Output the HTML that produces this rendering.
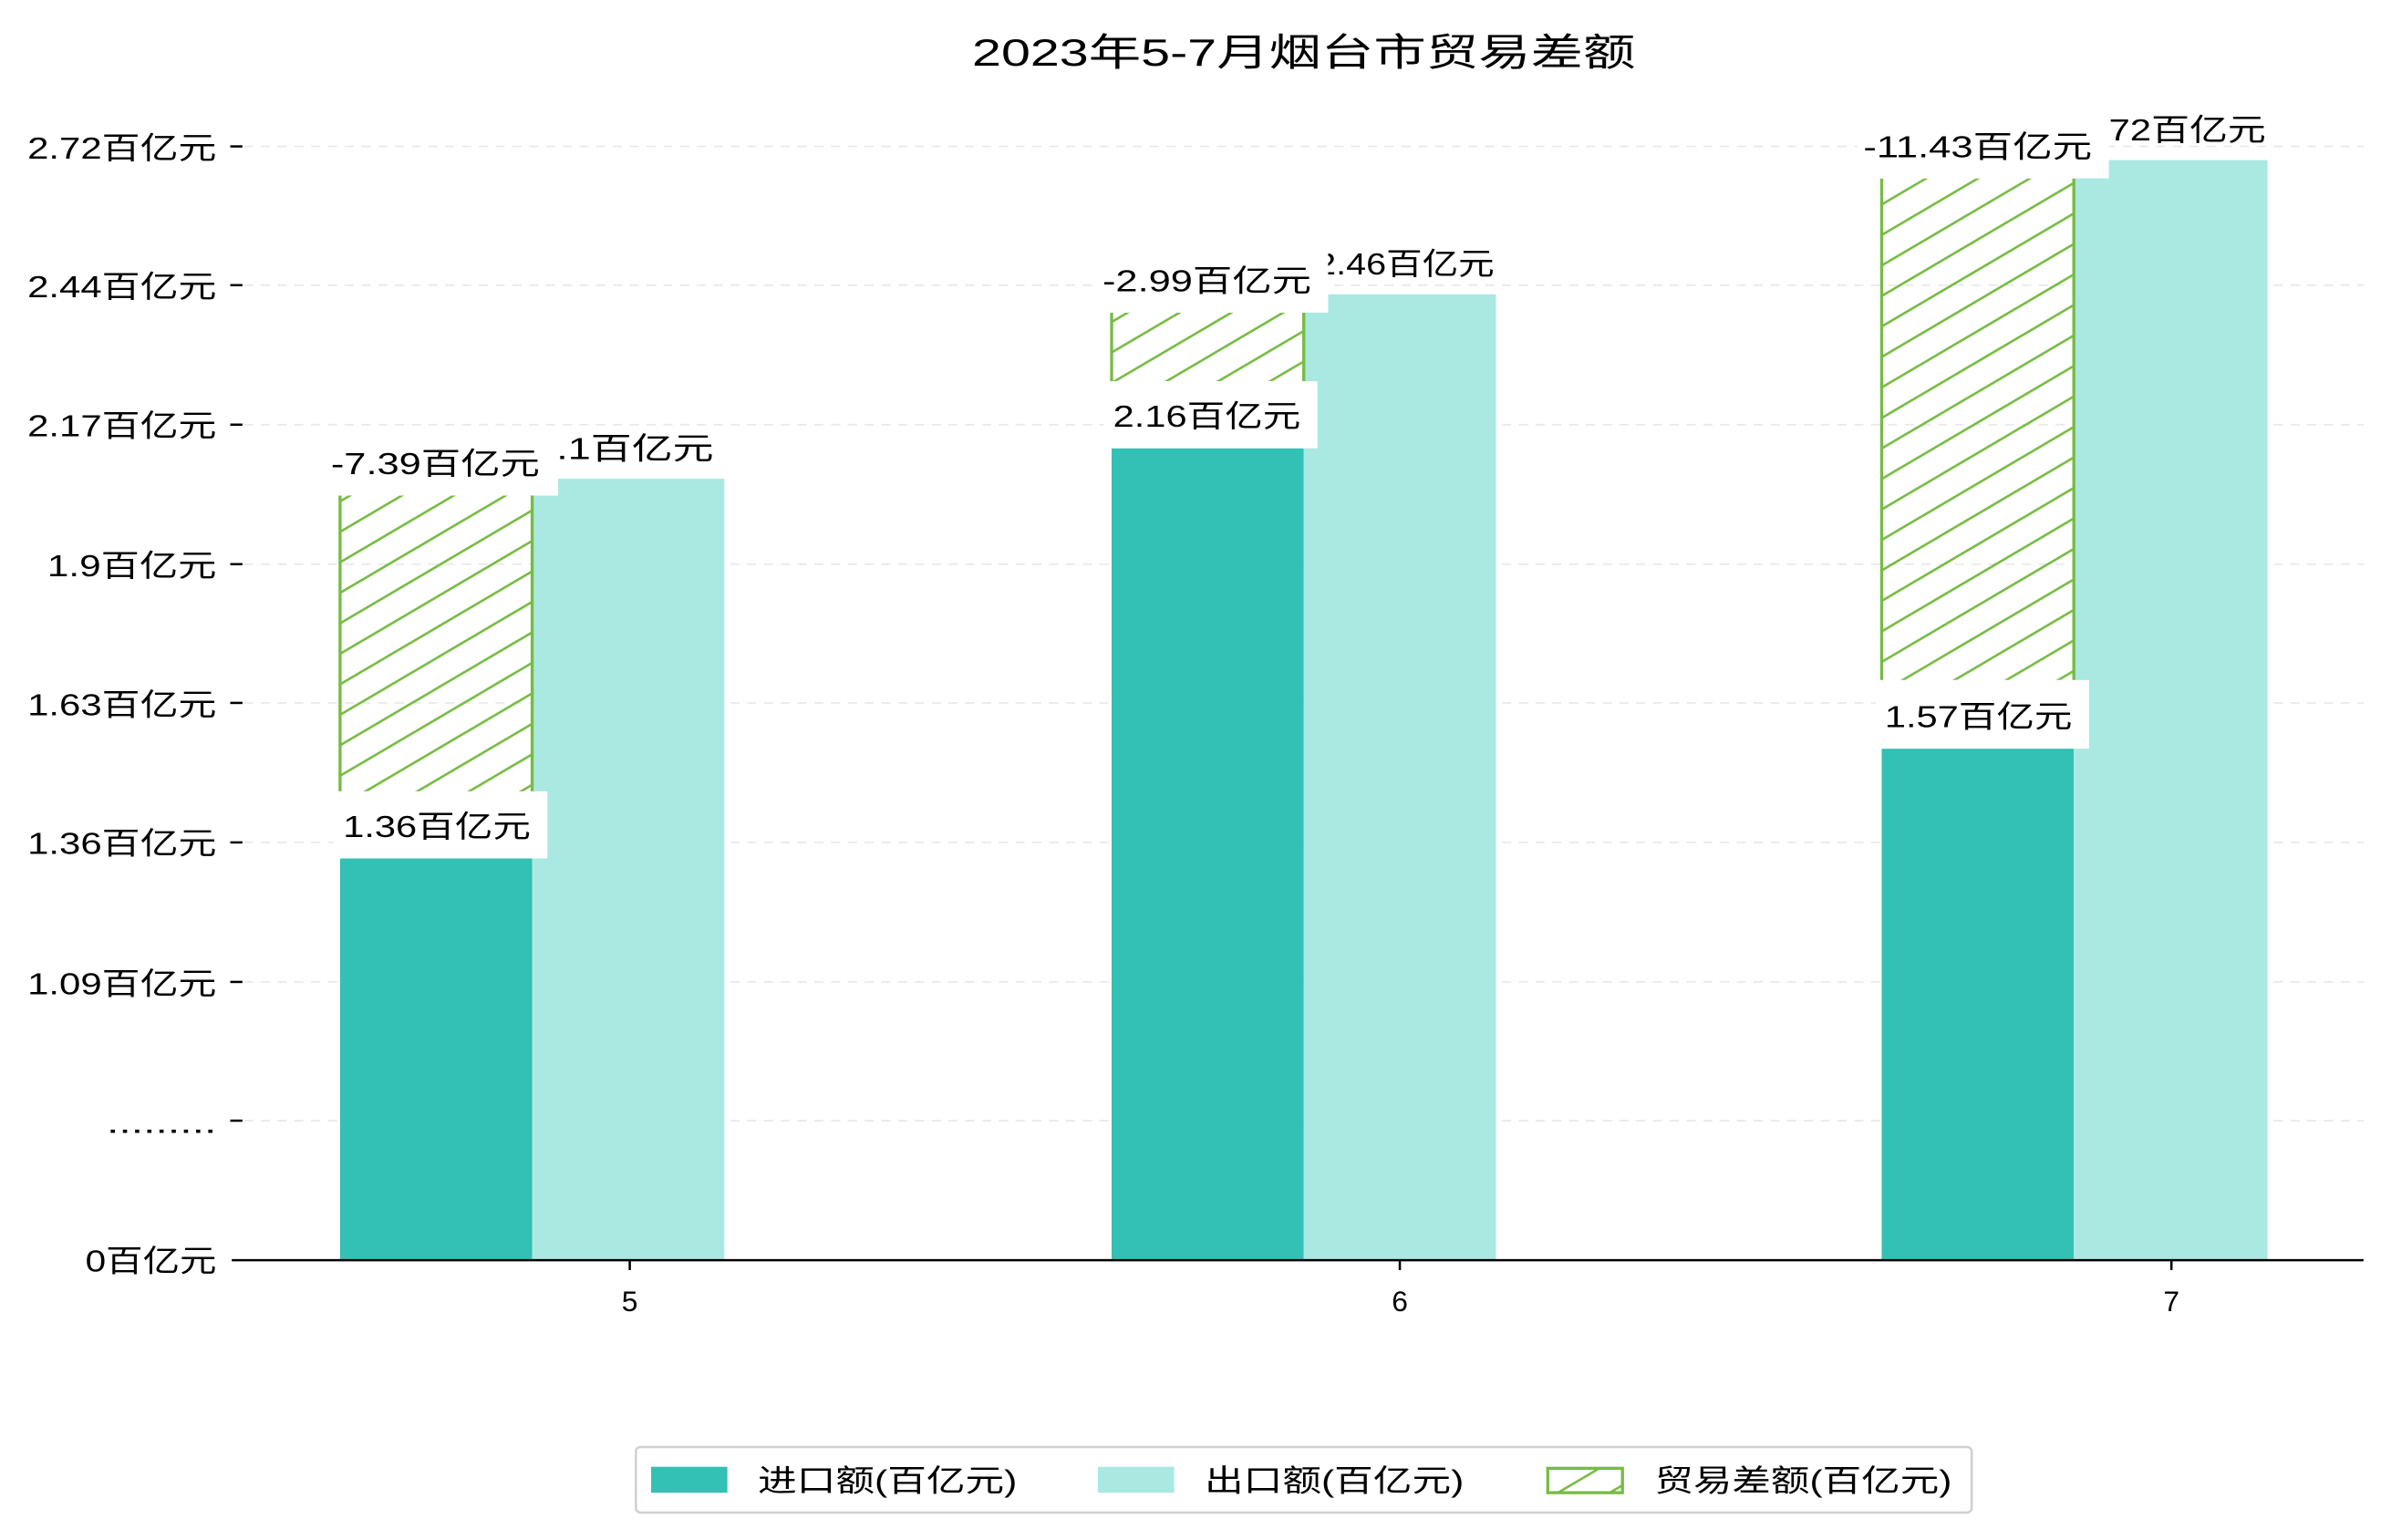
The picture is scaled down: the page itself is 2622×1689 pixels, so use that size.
<!DOCTYPE html>
<html><head><meta charset="utf-8"><style>
html,body{margin:0;padding:0;background:#fff;width:2622px;height:1689px;overflow:hidden}
svg{display:block}
text{font-family:"Liberation Sans","Noto Sans CJK SC",sans-serif;fill:#000}
</style></head><body>
<svg width="2622" height="1689" viewBox="0 0 1568 1010" xmlns="http://www.w3.org/2000/svg">
<defs>
<pattern id="h" patternUnits="userSpaceOnUse" width="34" height="20">
<line x1="-34" y1="40" x2="68" y2="-20" stroke="#77bb44" stroke-width="1.6"/>
<line x1="-34" y1="20" x2="34" y2="-20" stroke="#77bb44" stroke-width="1.6"/>
<line x1="0" y1="40" x2="68" y2="0" stroke="#77bb44" stroke-width="1.6"/>
</pattern>
</defs>
<rect width="1568" height="1010" fill="#fff"/>
<text x="855" y="43" font-size="25" text-anchor="middle" textLength="435" lengthAdjust="spacingAndGlyphs">2023年5-7月烟台市贸易差额</text>
<g stroke="#e8e8e8" stroke-width="1" stroke-dasharray="6,5">
<line x1="160" y1="96" x2="1550" y2="96"/><line x1="160" y1="187" x2="1550" y2="187"/>
<line x1="160" y1="278.5" x2="1550" y2="278.5"/><line x1="160" y1="370" x2="1550" y2="370"/>
<line x1="160" y1="461" x2="1550" y2="461"/><line x1="160" y1="552.5" x2="1550" y2="552.5"/>
<line x1="160" y1="644" x2="1550" y2="644"/><line x1="160" y1="735" x2="1550" y2="735"/>
</g>
<g stroke="#000" stroke-width="1.5">
<line x1="151" y1="96" x2="159" y2="96"/><line x1="151" y1="187" x2="159" y2="187"/>
<line x1="151" y1="278.5" x2="159" y2="278.5"/><line x1="151" y1="370" x2="159" y2="370"/>
<line x1="151" y1="461" x2="159" y2="461"/><line x1="151" y1="552.5" x2="159" y2="552.5"/>
<line x1="151" y1="644" x2="159" y2="644"/><line x1="151" y1="735" x2="159" y2="735"/>
<line x1="413" y1="826" x2="413" y2="833"/><line x1="918" y1="826" x2="918" y2="833"/><line x1="1424" y1="826" x2="1424" y2="833"/>
</g>
<g font-size="20" text-anchor="end">
<text x="142" y="104" textLength="124" lengthAdjust="spacingAndGlyphs">2.72百亿元</text>
<text x="142" y="195" textLength="124" lengthAdjust="spacingAndGlyphs">2.44百亿元</text>
<text x="142" y="286" textLength="124" lengthAdjust="spacingAndGlyphs">2.17百亿元</text>
<text x="142" y="378" textLength="111" lengthAdjust="spacingAndGlyphs">1.9百亿元</text>
<text x="142" y="469" textLength="124" lengthAdjust="spacingAndGlyphs">1.63百亿元</text>
<text x="142" y="560" textLength="124" lengthAdjust="spacingAndGlyphs">1.36百亿元</text>
<text x="142" y="652" textLength="124" lengthAdjust="spacingAndGlyphs">1.09百亿元</text>
<text x="142" y="743" textLength="72" lengthAdjust="spacingAndGlyphs">.........</text>
<text x="142" y="834" textLength="86" lengthAdjust="spacingAndGlyphs">0百亿元</text>
</g>
<g font-size="19" text-anchor="middle">
<text x="413" y="860">5</text><text x="918" y="860">6</text><text x="1424" y="860">7</text>
</g>
<rect x="223" y="563" width="126" height="263" fill="#32c1b4"/>
<rect x="349" y="314" width="126" height="512" fill="#aae8e2"/>
<rect x="729" y="294" width="126" height="532" fill="#32c1b4"/>
<rect x="855" y="193" width="126" height="633" fill="#aae8e2"/>
<rect x="1234" y="491" width="126" height="335" fill="#32c1b4"/>
<rect x="1360" y="105" width="127" height="721" fill="#aae8e2"/>
<rect x="223" y="325" width="126" height="194" fill="url(#h)"/>
<line x1="223" y1="325" x2="223" y2="519" stroke="#77bb44" stroke-width="2"/><line x1="349" y1="325" x2="349" y2="519" stroke="#77bb44" stroke-width="2"/>
<rect x="729" y="205" width="126" height="45" fill="url(#h)"/>
<line x1="729" y1="205" x2="729" y2="250" stroke="#77bb44" stroke-width="2"/><line x1="855" y1="205" x2="855" y2="250" stroke="#77bb44" stroke-width="2"/>
<rect x="1234" y="117" width="126" height="329" fill="url(#h)"/>
<line x1="1234" y1="117" x2="1234" y2="446" stroke="#77bb44" stroke-width="2"/><line x1="1360" y1="117" x2="1360" y2="446" stroke="#77bb44" stroke-width="2"/>
<line x1="152" y1="826.5" x2="1550" y2="826.5" stroke="#000" stroke-width="1.5"/>
<g font-size="20">
<text x="350" y="301" textLength="118" lengthAdjust="spacingAndGlyphs">2.1百亿元</text>
<text x="863" y="180" textLength="117" lengthAdjust="spacingAndGlyphs">2.46百亿元</text>
<text x="1362" y="92" textLength="124" lengthAdjust="spacingAndGlyphs">2.72百亿元</text>
<rect x="210" y="285" width="156" height="40" fill="#fff"/>
<text x="217" y="311" textLength="137" lengthAdjust="spacingAndGlyphs">-7.39百亿元</text>
<rect x="219" y="519" width="140" height="44" fill="#fff"/>
<text x="225" y="549" textLength="123" lengthAdjust="spacingAndGlyphs">1.36百亿元</text>
<rect x="718" y="165" width="153" height="40" fill="#fff"/>
<text x="723" y="191" textLength="137" lengthAdjust="spacingAndGlyphs">-2.99百亿元</text>
<rect x="724" y="250" width="140" height="44" fill="#fff"/>
<text x="730" y="280" textLength="123" lengthAdjust="spacingAndGlyphs">2.16百亿元</text>
<rect x="1218" y="75" width="165" height="42" fill="#fff"/>
<text x="1222" y="103" textLength="150" lengthAdjust="spacingAndGlyphs">-11.43百亿元</text>
<rect x="1230" y="446" width="140" height="45" fill="#fff"/>
<text x="1236" y="477" textLength="123" lengthAdjust="spacingAndGlyphs">1.57百亿元</text>
</g>
<rect x="417" y="949" width="876" height="43" rx="3" fill="#fff" stroke="#d0d0d0" stroke-width="1.5"/>
<rect x="427" y="962" width="50" height="17" fill="#32c1b4"/>
<rect x="720" y="962" width="50" height="17" fill="#aae8e2"/>
<rect x="1015" y="963" width="49" height="16" fill="url(#h)" stroke="#77bb44" stroke-width="2"/>
<g font-size="20">
<text x="497" y="978" textLength="170" lengthAdjust="spacingAndGlyphs">进口额(百亿元)</text>
<text x="790" y="978" textLength="170" lengthAdjust="spacingAndGlyphs">出口额(百亿元)</text>
<text x="1085" y="978" textLength="195" lengthAdjust="spacingAndGlyphs">贸易差额(百亿元)</text>
</g>
</svg>
</body></html>
